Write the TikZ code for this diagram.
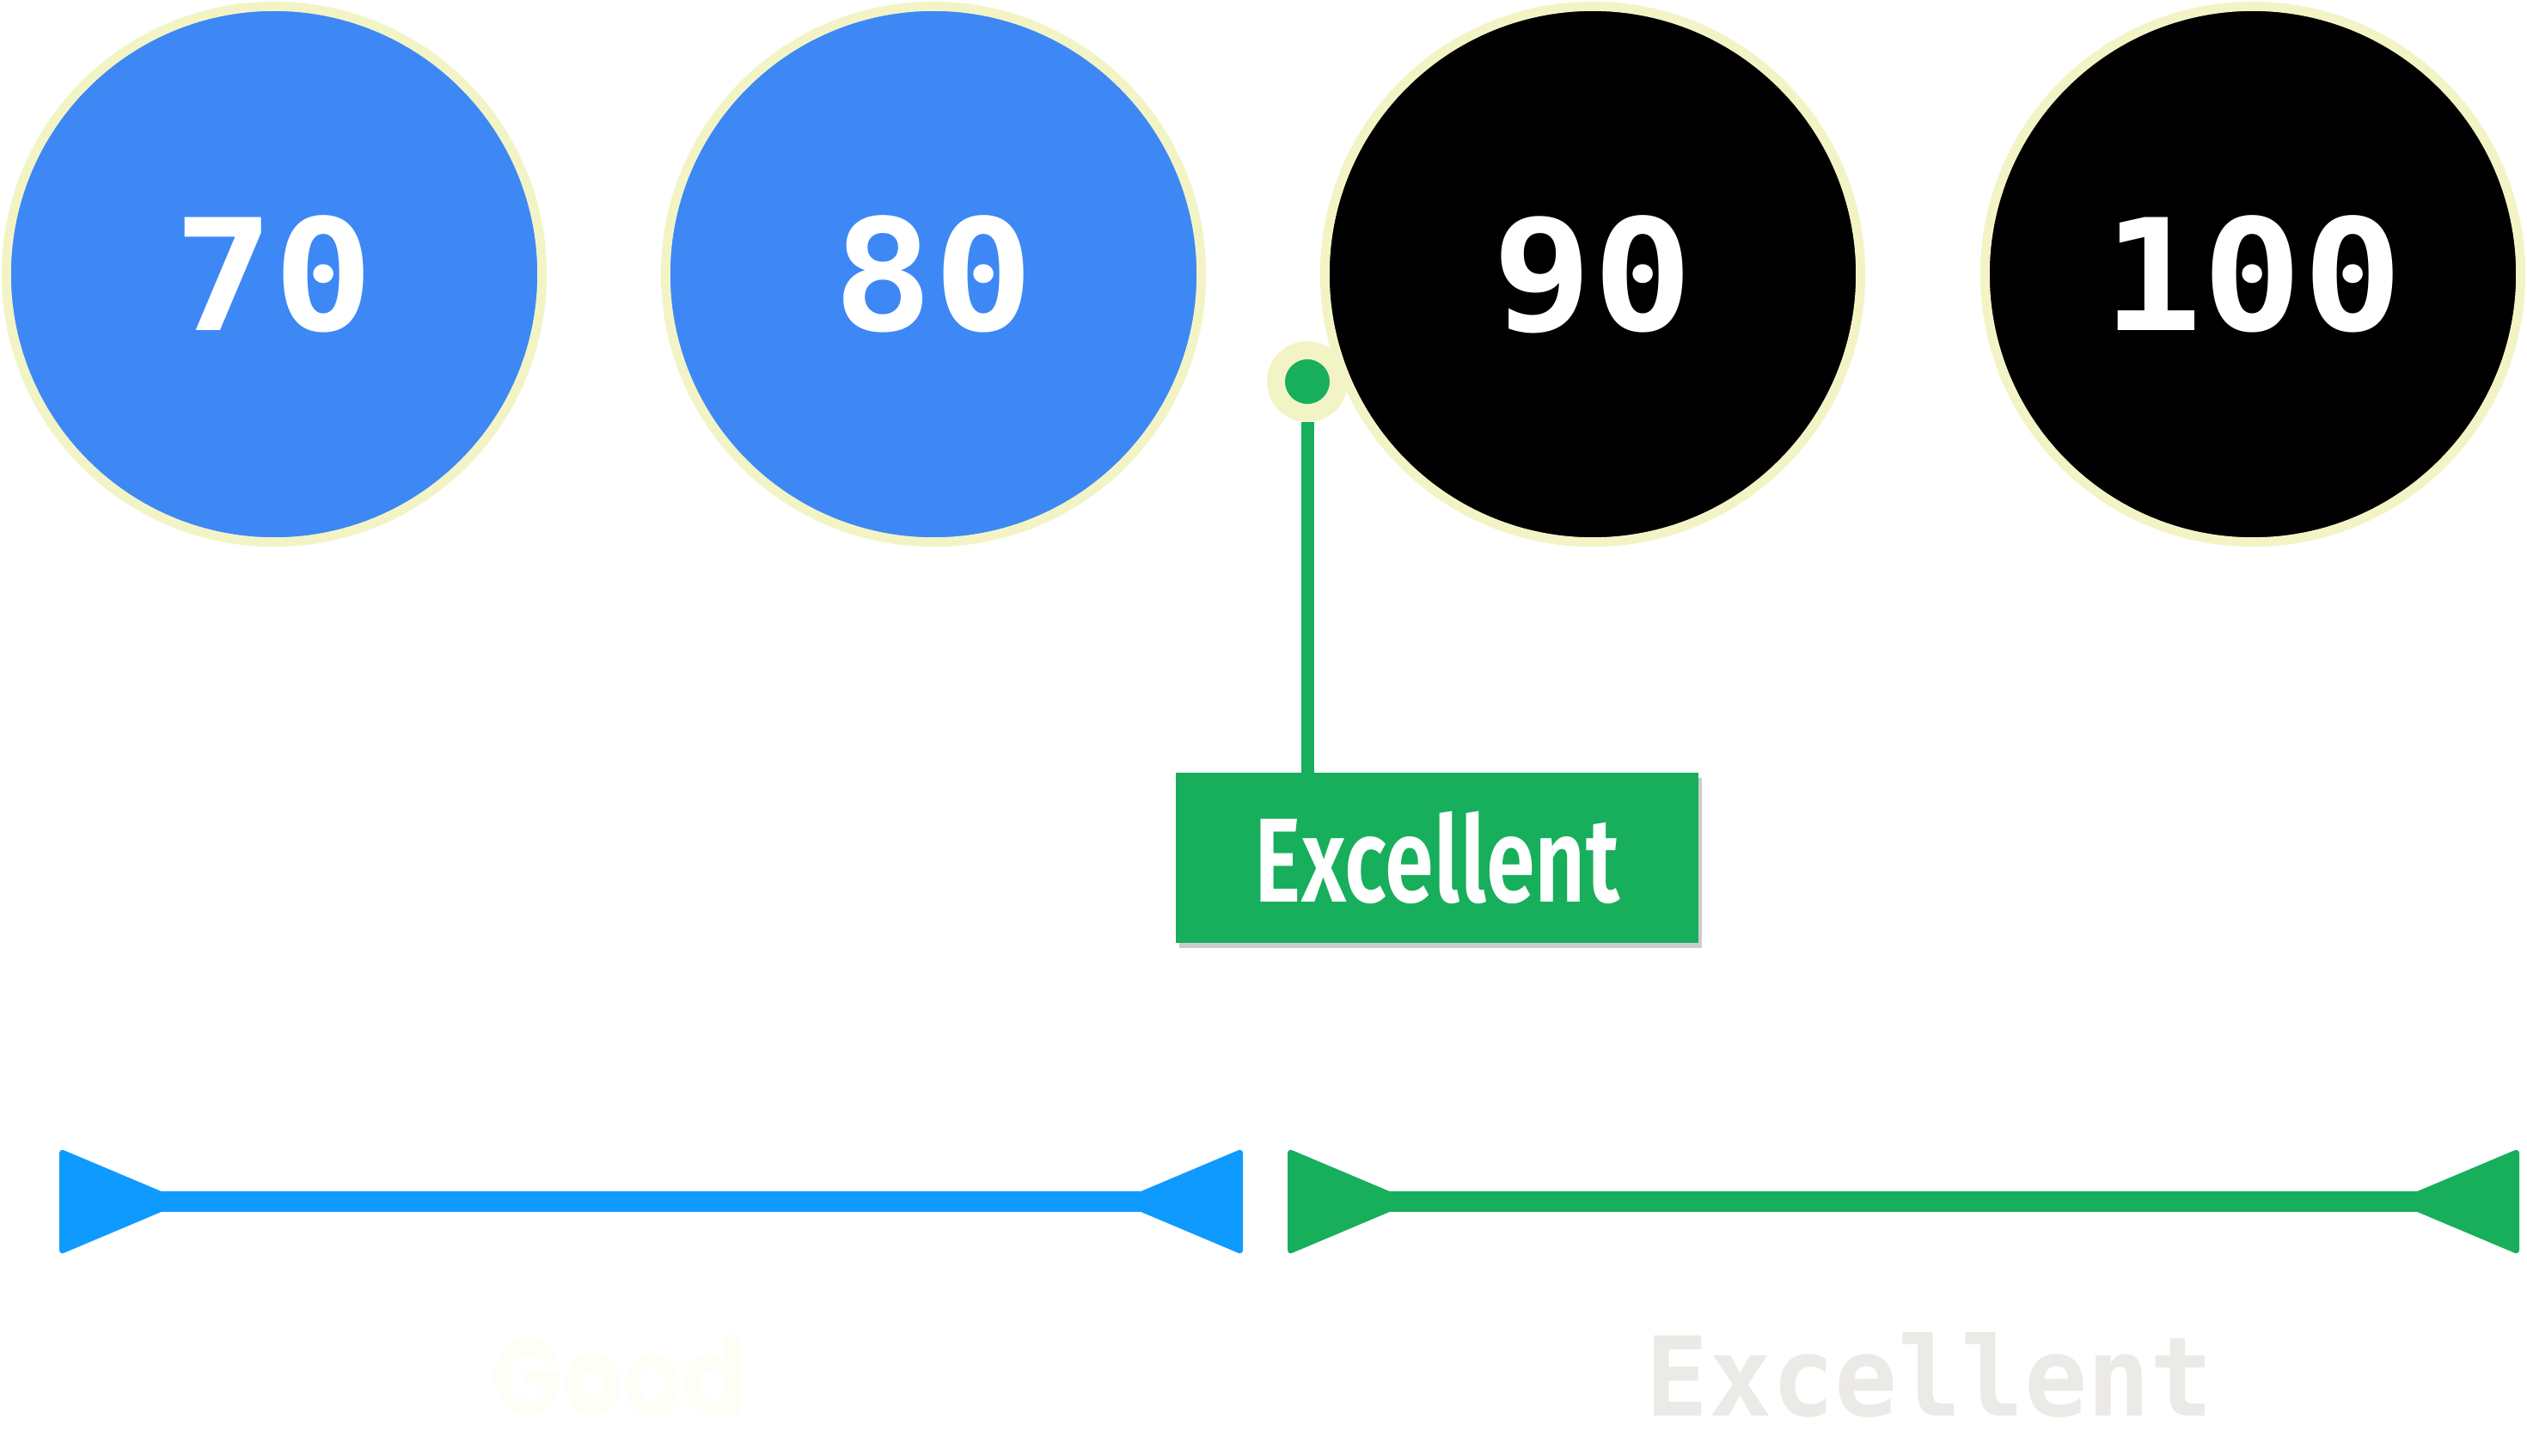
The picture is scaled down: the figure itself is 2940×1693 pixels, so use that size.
\documentclass[tikz,border=0pt]{standalone}
\usepackage{fontspec}
\usepackage{graphicx}
\usetikzlibrary{shadows}
\newfontfamily\monofam{DejaVu Sans Mono}
\newfontfamily\firafam{Fira Sans}[UprightFont=* SemiBold]
\newfontfamily\popfam{Poppins}
\definecolor{circblue}{HTML}{3D88F4}
\definecolor{ringyellow}{HTML}{F3F4C6}
\definecolor{arrowblue}{HTML}{0F9AFF}
\definecolor{mygreen}{HTML}{17AE5C}
\definecolor{lightgray}{HTML}{EBEAE7}
\definecolor{goodwhite}{HTML}{FEFEF6}
\begin{document}
\begin{tikzpicture}[x=0.01cm,y=-0.01cm,
  bigcirc/.style={circle, minimum size=6.23cm, inner sep=0pt, draw=ringyellow,
    line width=0.11cm, text=white,
    font=\monofam\bfseries\fontsize{51.3}{58}\selectfont},
  dotnode/.style={circle, minimum size=0.73cm, inner sep=0pt, fill=mygreen,
    draw=ringyellow, line width=0.21cm},
  connline/.style={draw=mygreen, line width=0.15cm},
  excbox/.style={rectangle, fill=mygreen, minimum width=6.07cm, minimum height=1.97cm,
    inner sep=0pt, text=white, font=\firafam\fontsize{39.6}{44}\selectfont,
    drop shadow={shadow xshift=0.04cm, shadow yshift=-0.06cm, fill=black, opacity=0.2}},
  rangeline/.style={line width=0.24cm},
  headtri/.style={rounded corners=0.06cm},
  bottomlabel/.style={inner sep=0pt}
]
\useasboundingbox (0,0) rectangle (2940,1693);

% score circles
\node[bigcirc, fill=circblue] (c70) at (319,319) {\scalebox{1.07}[1]{70}};
\node[bigcirc, fill=circblue] (c80) at (1086,319) {\scalebox{1.07}[1]{80}};
\node[bigcirc, fill=black] (c90) at (1853,319) {\scalebox{1.07}[1]{90}};
\node[bigcirc, fill=black] (c100) at (2621,319) {\scalebox{1.07}[1]{100}};

% marker dot and label box
\node[dotnode] (dot) at (1521,444) {};
\node[excbox] (box) at (1672,998) {\resizebox{4.24cm}{\height}{Excellent}};
\draw[connline] (dot.south) -- (dot.south |- box.north);

% range arrows
\coordinate (b1) at (69,1398);
\coordinate (b2) at (1446,1398);
\draw[rangeline, draw=arrowblue] (b1) -- (b2);
\fill[arrowblue, headtri] (b1) ++(0,-62) -- ++(147,62) -- ++(-147,62) -- cycle;
\fill[arrowblue, headtri] (b2) ++(0,-62) -- ++(-147,62) -- ++(147,62) -- cycle;

\coordinate (g1) at (1498,1398);
\coordinate (g2) at (2931,1398);
\draw[rangeline, draw=mygreen] (g1) -- (g2);
\fill[mygreen, headtri] (g1) ++(0,-62) -- ++(147,62) -- ++(-147,62) -- cycle;
\fill[mygreen, headtri] (g2) ++(0,-62) -- ++(-147,62) -- ++(147,62) -- cycle;

% range labels
\node[bottomlabel, text=goodwhite, font=\popfam\bfseries\fontsize{36}{40}\selectfont]
  (good) at (720,1600) {\resizebox{2.96cm}{\height}{Good}};
\node[bottomlabel, text=lightgray, font=\monofam\bfseries\fontsize{36.4}{40}\selectfont]
  (exc) at (2245,1600) {\resizebox{6.6cm}{\height}{Excellent}};
\end{tikzpicture}
\end{document}
